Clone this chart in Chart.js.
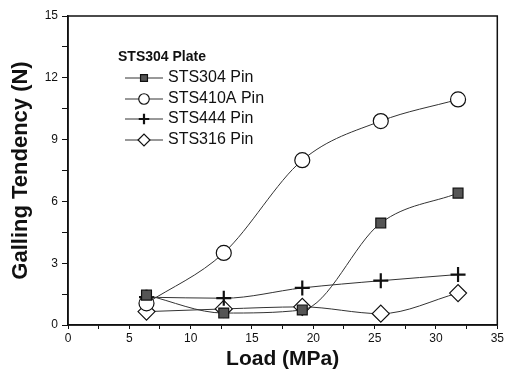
<!DOCTYPE html>
<html>
<head>
<meta charset="utf-8">
<script src="https://cdn.jsdelivr.net/npm/chart.js@4/dist/chart.umd.min.js"></script>
<style>
  html, body { margin: 0; padding: 0; background: #fff; }
  #wrap { width: 507px; height: 376px; }
</style>
</head>
<body>
<div id="wrap"><canvas id="myChart" width="507" height="376"></canvas></div>
<script>
const loads = [6.4, 12.7, 19.1, 25.5, 31.8];
const sts304 = [1.45, 0.58, 0.73, 4.95, 6.4];
const sts410a = [1.05, 3.5, 8.0, 9.9, 10.95];
const sts444 = [1.35, 1.3, 1.8, 2.15, 2.45];
const sts316 = [0.65, 0.78, 0.88, 0.55, 1.55];

const legendTitle = 'STS304 Plate';
const seriesNames = ['STS304 Pin', 'STS410A Pin', 'STS444 Pin', 'STS316 Pin'];

const fontFam = '"Liberation Sans", Arial, sans-serif';

function pts(ys) {
  return loads.map((x, i) => ({ x: x, y: ys[i] }));
}

const styles = [
  { pointStyle: 'rect', radius: 7, bg: '#555', border: '#111', bw: 1.2 },
  { pointStyle: 'circle', radius: 7.5, bg: '#fff', border: '#111', bw: 1.2 },
  { pointStyle: 'cross', radius: 7.5, bg: '#111', border: '#111', bw: 2.2 },
  { pointStyle: 'rectRot', radius: 8.5, bg: '#fff', border: '#111', bw: 1.2 }
];

const seriesData = [sts304, sts410a, sts444, sts316];

const datasets = seriesData.map((ys, i) => ({
  label: seriesNames[i],
  data: pts(ys),
  borderColor: '#333',
  borderWidth: 1,
  cubicInterpolationMode: 'monotone',
  pointStyle: styles[i].pointStyle,
  pointRadius: styles[i].radius,
  pointBackgroundColor: styles[i].bg,
  pointBorderColor: styles[i].border,
  pointBorderWidth: styles[i].bw
}));

// frame around plot + legend inside plot
const framePlugin = {
  id: 'frame',
  afterDraw(chart) {
    const { ctx, chartArea: a } = chart;
    ctx.save();
    ctx.strokeStyle = '#111';
    ctx.lineWidth = 1.5;
    ctx.strokeRect(a.left, a.top, a.right - a.left, a.bottom - a.top);

    ctx.fillStyle = '#111';
    ctx.textBaseline = 'middle';
    ctx.font = 'bold 14px ' + fontFam;
    ctx.fillText(legendTitle, 118, 57);

    ctx.font = '16px ' + fontFam;
    const rows = [78, 99, 119, 140];
    rows.forEach((y, i) => {
      ctx.strokeStyle = '#333';
      ctx.lineWidth = 1;
      ctx.beginPath();
      ctx.moveTo(125, y);
      ctx.lineTo(163, y);
      ctx.stroke();
      const s = styles[i];
      ctx.fillStyle = s.bg;
      ctx.strokeStyle = s.border;
      ctx.lineWidth = s.bw;
      Chart.helpers.drawPoint(ctx, {
        pointStyle: s.pointStyle,
        radius: s.radius * 0.7,
        borderWidth: s.bw
      }, 144, y);
      ctx.fillStyle = '#111';
      ctx.fillText(seriesNames[i], 168, y);
    });
    ctx.restore();
  }
};

const config = {
  type: 'line',
  data: { datasets: datasets },
  options: {
    responsive: false,
    animation: false,
    layout: { padding: { top: 16, right: 7, left: 0, bottom: 0 } },
    plugins: {
      legend: { display: false },
      tooltip: { enabled: false }
    },
    scales: {
      x: {
        type: 'linear',
        min: 0,
        max: 35,
        afterFit(scale) { scale.height = 51; },
        ticks: {
          stepSize: 2.5,
          autoSkip: false,
          maxRotation: 0,
          color: '#111',
          padding: 2,
          font: { size: 12, family: fontFam },
          callback: v => (Math.abs(v / 5 - Math.round(v / 5)) < 1e-6 ? v : '')
        },
        grid: { drawOnChartArea: false, tickLength: 4, color: '#111' },
        border: { color: '#111', width: 1.5 },
        title: {
          display: true,
          text: 'Load (MPa)',
          color: '#111',
          font: { size: 21, weight: 'bold', family: fontFam },
          padding: { top: 0, bottom: 4 }
        }
      },
      y: {
        min: 0,
        max: 15,
        afterFit(scale) { scale.width = 68; },
        ticks: {
          stepSize: 1.5,
          autoSkip: false,
          color: '#111',
          padding: 4,
          font: { size: 12, family: fontFam },
          callback: v => (Math.abs(v / 3 - Math.round(v / 3)) < 1e-6 ? v : '')
        },
        grid: { drawOnChartArea: false, tickLength: 6, color: '#111' },
        border: { color: '#111', width: 1.5 },
        title: {
          display: true,
          text: 'Galling Tendency (N)',
          color: '#111',
          font: { size: 22, weight: 'bold', family: fontFam },
          padding: { top: 8, bottom: 0 }
        }
      }
    }
  },
  plugins: [framePlugin]
};

const ctx = document.getElementById('myChart').getContext('2d');
const chart = new Chart(ctx, config);
</script>
</body>
</html>
